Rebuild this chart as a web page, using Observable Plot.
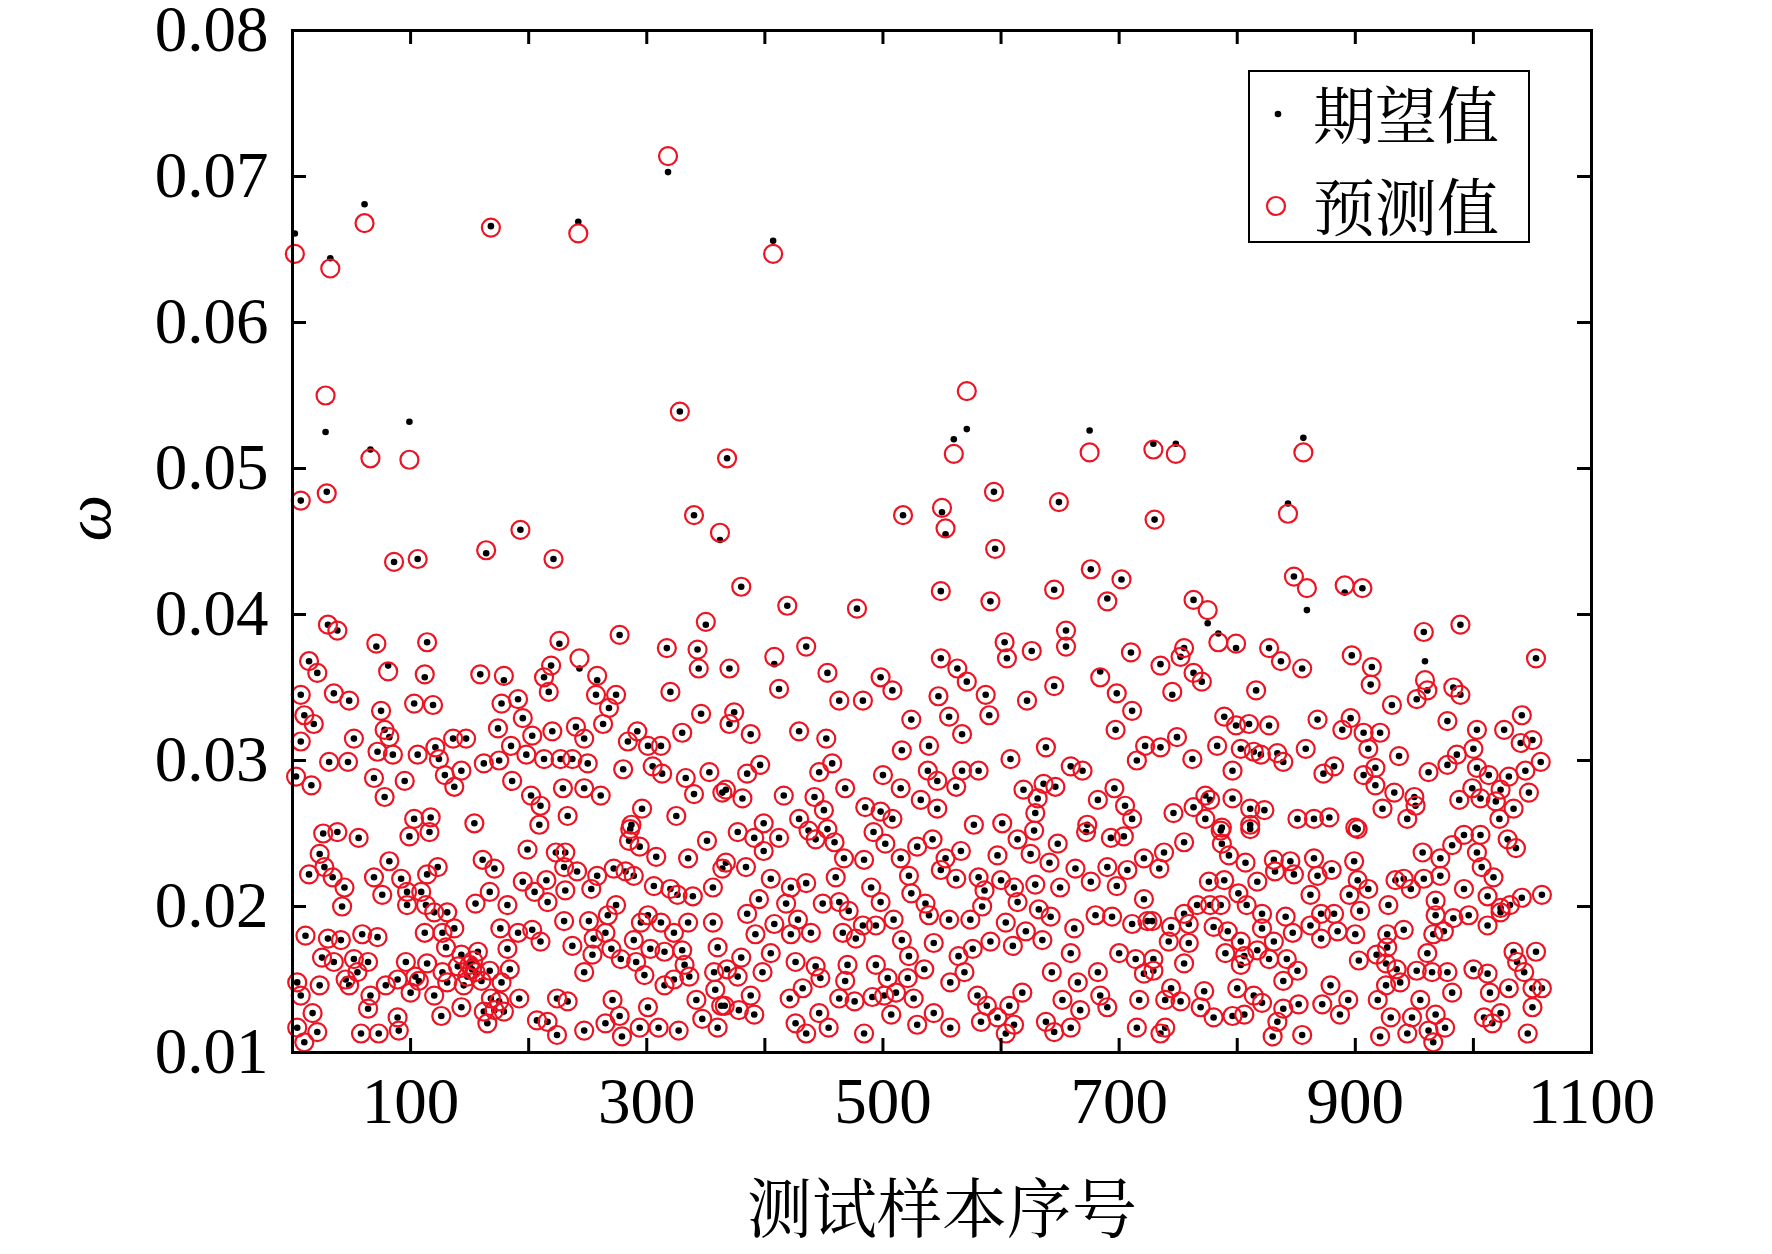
<!DOCTYPE html>
<html>
<head>
<meta charset="utf-8">
<script src="https://cdn.jsdelivr.net/npm/d3@7"></script>
<script src="https://cdn.jsdelivr.net/npm/@observablehq/plot@0.6"></script>
<style>
  html, body { margin: 0; padding: 0; background: #fff; }
  #wrap { position: relative; width: 1772px; height: 1254px; background: #fff; }
  #legend { position: absolute; left: 1248px; top: 70px; width: 282px; height: 173px;
            border: 2px solid #000; background: #fff; box-sizing: border-box; }
  #legend .lab { position: absolute; left: 63px; font-size: 62px; line-height: 62px;
            font-family: "Noto Serif CJK SC", "Noto Sans CJK SC", serif; color: #000; }
</style>
</head>
<body>
<div id="wrap">
  <div id="chart"></div>
  <div id="legend">
    <svg width="282" height="173" style="position:absolute;left:0;top:0">
      <circle cx="28" cy="42" r="3.3" fill="#000"></circle>
      <circle cx="26" cy="134" r="9" fill="none" stroke="#ec1422" stroke-width="2.2"></circle>
    </svg>
    <div class="lab" style="top:10px">期望值</div>
    <div class="lab" style="top:102px">预测值</div>
  </div>
</div>
<script>
// test sample index
const sampleIdx = [
// lower-left
26,38,56,99,116,286,351,285,294,23,27,14,34,44,42,82,69,92,114,123,
76,97,109,97,113,131,161,171,167,155,182,199,223,231,230,241,258,272,282,289,
308,335,364,195,215,205,216,231,253,306,320,326,339,356,274,267,301,295,312,323,
335,356,230,251,11,30,41,59,72,112,127,137,176,191,203,210,182,237,255,265,
270,289,303,315,330,360,25,35,52,64,55,96,114,127,143,157,152,167,184,177,
247,254,278,291,298,332,323,336,357,4,7,23,45,48,66,79,89,100,107,120,
131,145,168,175,192,224,233,271,301,315,342,358,363,17,64,89,126,143,162,171,
179,207,216,247,265,277,294,310,327,347,360,4,21,10,58,73,90,165,224,279,
// upper-left
30,38,71,114,226,277,350,317,343,344,14,21,81,112,159,179,219,213,217,243,
258,320,7,35,48,75,103,119,177,191,257,274,268,346,10,18,7,52,78,82,
72,85,121,136,147,124,106,174,185,195,203,220,240,247,263,292,284,301,312,330,
31,47,162,175,198,213,227,237,250,280,305,313,333,353,364,3,16,69,78,95,
129,143,137,186,202,210,229,247,261,340,117,103,154,209,233,296,287,325,
// lower-middle
377,412,399,391,437,453,443,459,492,502,529,542,566,553,549,597,614,625,628,648,
641,672,693,704,721,707,690,698,721,663,676,650,367,384,405,422,435,395,418,449,
467,484,460,463,490,498,515,522,524,536,562,581,586,600,611,629,614,632,584,385,
408,428,422,392,439,471,483,466,477,494,509,539,556,574,516,543,576,591,610,621,
635,642,604,662,680,694,711,724,659,643,665,682,700,714,721,380,368,377,398,405,
426,443,447,470,468,494,504,522,535,521,564,569,557,366,388,391,378,421,432,426,
435,454,446,463,476,491,501,484,507,511,526,529,543,557,580,588,607,583,597,604,
611,618,638,645,659,652,667,684,690,717,715,
// upper-middle
419,478,591,690,435,408,370,412,453,498,508,463,483,549,563,571,547,587,603,605,
626,655,655,710,684,645,698,622,711,374,370,388,429,452,524,556,590,567,516,539,
697,638,608,722,715,396,385,446,457,500,367,381,416,442,468,450,429,399,515,538,
546,567,581,562,532,546,485,498,508,659,669,619,636,646,631,629,577,601,696,682,
705,711,673,
// lower-right
755,786,787,793,811,807,738,734,776,789,801,817,831,845,832,848,865,868,862,880,
899,902,895,911,902,934,941,947,958,928,957,972,972,982,992,1006,1003,1007,992,1017,
1029,1036,1012,1041,1058,1023,1031,755,766,777,786,728,744,759,742,759,780,792,803,808,
821,821,831,841,847,817,862,871,871,882,885,900,904,927,941,927,903,918,961,968,
968,966,975,983,996,1012,1023,1034,1037,1053,729,729,755,790,803,806,827,842,839,851,
926,935,926,938,952,965,978,1000,1012,1043,1030,1050,1058,1050,1014,982,955,744,739,752,
769,772,780,796,806,800,814,821,839,852,834,830,855,872,879,887,894,919,930,948,
921,944,962,966,968,976,1009,1023,1016,1046,735,739,
// upper-right
763,775,784,799,755,752,735,770,763,745,816,827,837,855,897,914,913,958,989,959,
952,961,983,989,931,1053,1041,789,799,810,827,868,896,889,907,921,978,1003,1026,749,
735,762,783,796,803,814,820,834,839,858,873,882,911,907,917,917,937,962,978,986,
1000,1003,1013,1030,1040,1050,1057,1044,1047,999,1023,988,1006,1019,1034,1022,933,950,951,944,
923,900,773,777,763,746,796,811,823,773,787,811,851,865,878,
// high values
2,32,61,28,29,7,66,99,86,106,164,168,193,221,242,318,328,340,362,368,
380,407,517,550,553,549,560,571,594,595,649,645,675,676,702,729,748,730,843,856,
848,859,891,906,
// dense cluster near 150
120,104,130,153,140,148,160,150,155
];

// expected value (black dots)
const expected = [
// lower-left
0.0250,0.0251,0.0247,0.0248,0.0251,0.0253,0.0245,0.0245,0.0241,0.0236,0.0227,0.0222,0.0220,0.0213,0.0200,0.0231,0.0220,0.0219,0.0222,0.0227,
0.0208,0.0210,0.0210,0.0201,0.0201,0.0196,0.0232,0.0226,0.0210,0.0202,0.0201,0.0239,0.0237,0.0237,0.0227,0.0224,0.0221,0.0226,0.0224,0.0221,
0.0234,0.0233,0.0226,0.0217,0.0218,0.0210,0.0203,0.0211,0.0212,0.0214,0.0212,0.0208,0.0207,0.0213,0.0201,0.0194,0.0194,0.0189,0.0189,0.0182,
0.0189,0.0189,0.0190,0.0190,0.0180,0.0178,0.0177,0.0181,0.0179,0.0182,0.0182,0.0185,0.0185,0.0182,0.0184,0.0176,0.0171,0.0173,0.0178,0.0182,
0.0171,0.0177,0.0171,0.0169,0.0170,0.0172,0.0165,0.0162,0.0164,0.0162,0.0155,0.0162,0.0161,0.0155,0.0167,0.0169,0.0157,0.0156,0.0157,0.0148,
0.0155,0.0167,0.0164,0.0162,0.0153,0.0160,0.0150,0.0152,0.0155,0.0148,0.0139,0.0146,0.0150,0.0146,0.0139,0.0146,0.0150,0.0141,0.0149,0.0139,
0.0148,0.0146,0.0137,0.0135,0.0137,0.0137,0.0135,0.0136,0.0131,0.0146,0.0136,0.0143,0.0132,0.0127,0.0130,0.0124,0.0125,0.0131,0.0128,0.0129,
0.0128,0.0122,0.0121,0.0115,0.0120,0.0125,0.0117,0.0117,0.0115,0.0123,0.0117,0.0117,0.0114,0.0107,0.0113,0.0113,0.0115,0.0120,0.0112,0.0111,
// upper-left
0.0393,0.0389,0.0378,0.0381,0.0380,0.0386,0.0393,0.0377,0.0376,0.0363,0.0368,0.0360,0.0365,0.0357,0.0359,0.0355,0.0365,0.0357,0.0347,0.0363,
0.0355,0.0347,0.0345,0.0346,0.0341,0.0334,0.0339,0.0338,0.0339,0.0342,0.0345,0.0345,0.0336,0.0332,0.0331,0.0325,0.0313,0.0315,0.0321,0.0316,
0.0306,0.0304,0.0309,0.0315,0.0315,0.0301,0.0304,0.0322,0.0310,0.0329,0.0317,0.0320,0.0323,0.0315,0.0325,0.0320,0.0313,0.0310,0.0310,0.0319,
0.0299,0.0299,0.0298,0.0300,0.0304,0.0301,0.0301,0.0301,0.0298,0.0294,0.0296,0.0291,0.0288,0.0292,0.0278,0.0289,0.0283,0.0288,0.0275,0.0286,
0.0290,0.0293,0.0282,0.0286,0.0276,0.0269,0.0281,0.0281,0.0276,0.0277,0.0261,0.0260,0.0257,0.0256,0.0262,0.0267,0.0256,0.0262,
// lower-middle
0.0251,0.0247,0.0238,0.0247,0.0252,0.0253,0.0246,0.0244,0.0251,0.0243,0.0241,0.0246,0.0238,0.0233,0.0225,0.0235,0.0246,0.0236,0.0252,0.0243,
0.0230,0.0251,0.0247,0.0248,0.0233,0.0225,0.0227,0.0214,0.0205,0.0226,0.0217,0.0213,0.0230,0.0227,0.0219,0.0213,0.0216,0.0205,0.0202,0.0202,
0.0233,0.0232,0.0220,0.0203,0.0213,0.0203,0.0233,0.0221,0.0209,0.0202,0.0219,0.0220,0.0211,0.0218,0.0213,0.0215,0.0203,0.0198,0.0200,0.0195,
0.0188,0.0191,0.0181,0.0181,0.0182,0.0197,0.0187,0.0182,0.0178,0.0187,0.0191,0.0194,0.0191,0.0191,0.0177,0.0175,0.0171,0.0176,0.0173,0.0183,
0.0177,0.0193,0.0189,0.0185,0.0194,0.0193,0.0188,0.0190,0.0168,0.0155,0.0148,0.0155,0.0168,0.0164,0.0154,0.0165,0.0157,0.0152,0.0155,0.0168,
0.0162,0.0159,0.0151,0.0160,0.0149,0.0160,0.0151,0.0166,0.0157,0.0151,0.0166,0.0155,0.0148,0.0132,0.0139,0.0126,0.0129,0.0137,0.0144,0.0120,
0.0113,0.0117,0.0127,0.0137,0.0135,0.0138,0.0139,0.0113,0.0126,0.0141,0.0137,0.0119,0.0127,0.0117,0.0139,0.0132,0.0132,0.0121,0.0124,0.0113,
0.0119,0.0141,0.0121,0.0114,0.0117,0.0136,0.0129,0.0139,0.0131,0.0136,0.0117,
// upper-middle
0.0406,0.0404,0.0409,0.0411,0.0378,0.0366,0.0363,0.0349,0.0360,0.0357,0.0348,0.0341,0.0341,0.0370,0.0363,0.0354,0.0344,0.0345,0.0381,0.0370,
0.0375,0.0389,0.0378,0.0374,0.0361,0.0351,0.0346,0.0341,0.0334,0.0333,0.0325,0.0318,0.0320,0.0315,0.0328,0.0330,0.0331,0.0318,0.0307,0.0310,
0.0321,0.0309,0.0301,0.0310,0.0300,0.0297,0.0291,0.0292,0.0298,0.0290,0.0280,0.0274,0.0276,0.0275,0.0281,0.0266,0.0260,0.0257,0.0281,0.0293,
0.0286,0.0293,0.0293,0.0282,0.0273,0.0267,0.0268,0.0265,0.0260,0.0296,0.0293,0.0280,0.0284,0.0282,0.0274,0.0264,0.0256,0.0257,0.0281,0.0273,
0.0269,0.0260,0.0256,
// lower-right
0.0244,0.0252,0.0243,0.0235,0.0253,0.0230,0.0237,0.0226,0.0217,0.0218,0.0209,0.0217,0.0232,0.0231,0.0224,0.0222,0.0233,0.0221,0.0208,0.0225,
0.0231,0.0218,0.0208,0.0212,0.0253,0.0218,0.0219,0.0212,0.0219,0.0201,0.0237,0.0233,0.0221,0.0242,0.0249,0.0249,0.0237,0.0227,0.0212,0.0220,
0.0246,0.0240,0.0207,0.0206,0.0208,0.0199,0.0201,0.0195,0.0201,0.0201,0.0201,0.0190,0.0186,0.0188,0.0176,0.0175,0.0186,0.0183,0.0176,0.0201,
0.0195,0.0185,0.0176,0.0193,0.0182,0.0170,0.0187,0.0195,0.0178,0.0195,0.0183,0.0181,0.0197,0.0181,0.0184,0.0172,0.0163,0.0167,0.0168,0.0204,
0.0194,0.0181,0.0183,0.0192,0.0194,0.0187,0.0196,0.0169,0.0162,0.0169,0.0164,0.0156,0.0161,0.0168,0.0160,0.0166,0.0164,0.0164,0.0149,0.0156,
0.0161,0.0157,0.0146,0.0148,0.0156,0.0155,0.0155,0.0157,0.0154,0.0155,0.0144,0.0144,0.0144,0.0131,0.0141,0.0141,0.0136,0.0144,0.0136,0.0135,
0.0131,0.0142,0.0124,0.0125,0.0126,0.0144,0.0139,0.0134,0.0130,0.0133,0.0121,0.0111,0.0112,0.0133,0.0146,0.0126,0.0136,0.0136,0.0124,0.0124,
0.0111,0.0113,0.0115,0.0107,0.0126,0.0117,0.0124,0.0127,0.0120,0.0113,0.0113,0.0117,
// upper-right
0.0410,0.0394,0.0387,0.0377,0.0377,0.0371,0.0366,0.0354,0.0360,0.0345,0.0348,0.0377,0.0368,0.0363,0.0372,0.0364,0.0352,0.0388,0.0393,0.0368,
0.0342,0.0348,0.0350,0.0345,0.0338,0.0370,0.0331,0.0330,0.0324,0.0325,0.0324,0.0328,0.0329,0.0321,0.0319,0.0319,0.0327,0.0321,0.0321,0.0316,
0.0309,0.0301,0.0310,0.0293,0.0308,0.0306,0.0304,0.0305,0.0299,0.0308,0.0291,0.0296,0.0308,0.0290,0.0295,0.0283,0.0303,0.0292,0.0297,0.0304,
0.0308,0.0295,0.0290,0.0289,0.0312,0.0314,0.0299,0.0293,0.0278,0.0281,0.0280,0.0273,0.0274,0.0272,0.0267,0.0260,0.0278,0.0275,0.0269,0.0260,
0.0267,0.0254,0.0276,0.0273,0.0268,0.0264,0.0274,0.0267,0.0266,0.0260,0.0254,0.0256,0.0260,0.0260,0.0261,
// high values
0.0661,0.0644,0.0681,0.0525,0.0484,0.0478,0.0513,0.0532,0.0436,0.0438,0.0442,0.0666,0.0458,0.0438,0.0669,0.0703,0.0539,0.0468,0.0451,0.0507,
0.0419,0.0656,0.0468,0.0470,0.0455,0.0416,0.0520,0.0527,0.0484,0.0445,0.0477,0.0417,0.0526,0.0431,0.0424,0.0517,0.0517,0.0465,0.0476,0.0521,
0.0426,0.0403,0.0415,0.0418,
// dense cluster near 150
0.0196,0.0152,0.0172,0.0163,0.0159,0.0152,0.0149,0.0160,0.0155
];

// predicted value (red circles)
const predicted = [
// lower-left
0.0250,0.0251,0.0247,0.0248,0.0251,0.0253,0.0245,0.0245,0.0241,0.0236,0.0227,0.0222,0.0220,0.0213,0.0200,0.0231,0.0220,0.0219,0.0222,0.0227,
0.0208,0.0210,0.0210,0.0201,0.0201,0.0196,0.0232,0.0226,0.0210,0.0202,0.0201,0.0239,0.0237,0.0237,0.0227,0.0224,0.0221,0.0226,0.0224,0.0221,
0.0234,0.0233,0.0226,0.0217,0.0218,0.0210,0.0203,0.0211,0.0212,0.0214,0.0212,0.0208,0.0207,0.0213,0.0201,0.0194,0.0194,0.0189,0.0189,0.0182,
0.0189,0.0189,0.0190,0.0190,0.0180,0.0178,0.0177,0.0181,0.0179,0.0182,0.0182,0.0185,0.0185,0.0182,0.0184,0.0176,0.0171,0.0173,0.0178,0.0182,
0.0171,0.0177,0.0171,0.0169,0.0170,0.0172,0.0165,0.0162,0.0164,0.0162,0.0155,0.0162,0.0161,0.0155,0.0167,0.0169,0.0157,0.0156,0.0157,0.0148,
0.0155,0.0167,0.0164,0.0162,0.0153,0.0160,0.0150,0.0152,0.0155,0.0148,0.0139,0.0146,0.0150,0.0146,0.0139,0.0146,0.0150,0.0141,0.0149,0.0139,
0.0148,0.0146,0.0137,0.0135,0.0137,0.0137,0.0135,0.0136,0.0131,0.0146,0.0136,0.0143,0.0132,0.0127,0.0130,0.0124,0.0125,0.0131,0.0128,0.0129,
0.0128,0.0122,0.0121,0.0115,0.0120,0.0125,0.0117,0.0117,0.0115,0.0123,0.0117,0.0117,0.0114,0.0107,0.0113,0.0113,0.0115,0.0120,0.0112,0.0111,
// upper-left
0.0393,0.0389,0.0380,0.0381,0.0382,0.0386,0.0395,0.0377,0.0376,0.0363,0.0368,0.0360,0.0361,0.0359,0.0359,0.0358,0.0365,0.0357,0.0347,0.0370,
0.0358,0.0347,0.0345,0.0346,0.0341,0.0334,0.0339,0.0338,0.0339,0.0342,0.0345,0.0345,0.0336,0.0332,0.0331,0.0325,0.0313,0.0315,0.0321,0.0316,
0.0306,0.0304,0.0309,0.0315,0.0315,0.0301,0.0304,0.0322,0.0310,0.0329,0.0317,0.0320,0.0323,0.0315,0.0325,0.0320,0.0313,0.0310,0.0310,0.0319,
0.0299,0.0299,0.0298,0.0300,0.0304,0.0301,0.0301,0.0301,0.0298,0.0294,0.0296,0.0291,0.0288,0.0292,0.0278,0.0289,0.0283,0.0288,0.0275,0.0286,
0.0290,0.0293,0.0282,0.0286,0.0276,0.0269,0.0281,0.0281,0.0276,0.0277,0.0261,0.0260,0.0257,0.0256,0.0262,0.0267,0.0256,0.0262,
// lower-middle
0.0251,0.0247,0.0238,0.0247,0.0252,0.0253,0.0246,0.0244,0.0251,0.0243,0.0241,0.0246,0.0238,0.0233,0.0225,0.0235,0.0246,0.0236,0.0252,0.0243,
0.0230,0.0251,0.0247,0.0248,0.0233,0.0225,0.0227,0.0214,0.0205,0.0226,0.0217,0.0213,0.0230,0.0227,0.0219,0.0213,0.0216,0.0205,0.0202,0.0202,
0.0233,0.0232,0.0220,0.0203,0.0213,0.0203,0.0233,0.0221,0.0209,0.0202,0.0219,0.0220,0.0211,0.0218,0.0213,0.0215,0.0203,0.0198,0.0200,0.0195,
0.0188,0.0191,0.0181,0.0181,0.0182,0.0197,0.0187,0.0182,0.0178,0.0187,0.0191,0.0194,0.0191,0.0191,0.0177,0.0175,0.0171,0.0176,0.0173,0.0183,
0.0177,0.0193,0.0189,0.0185,0.0194,0.0193,0.0188,0.0190,0.0168,0.0155,0.0148,0.0155,0.0168,0.0164,0.0154,0.0165,0.0157,0.0152,0.0155,0.0168,
0.0162,0.0159,0.0151,0.0160,0.0149,0.0160,0.0151,0.0166,0.0157,0.0151,0.0166,0.0155,0.0148,0.0132,0.0139,0.0126,0.0129,0.0137,0.0144,0.0120,
0.0113,0.0117,0.0127,0.0137,0.0135,0.0138,0.0139,0.0113,0.0126,0.0141,0.0137,0.0119,0.0127,0.0117,0.0139,0.0132,0.0132,0.0121,0.0124,0.0113,
0.0119,0.0141,0.0121,0.0114,0.0117,0.0136,0.0129,0.0139,0.0131,0.0136,0.0117,
// upper-middle
0.0406,0.0404,0.0409,0.0409,0.0378,0.0371,0.0363,0.0349,0.0360,0.0357,0.0348,0.0341,0.0341,0.0370,0.0363,0.0354,0.0344,0.0345,0.0381,0.0370,
0.0375,0.0389,0.0378,0.0374,0.0357,0.0351,0.0346,0.0341,0.0334,0.0333,0.0325,0.0318,0.0320,0.0315,0.0328,0.0330,0.0331,0.0318,0.0307,0.0310,
0.0321,0.0309,0.0301,0.0310,0.0300,0.0297,0.0291,0.0292,0.0298,0.0290,0.0280,0.0274,0.0276,0.0275,0.0281,0.0266,0.0260,0.0257,0.0281,0.0293,
0.0286,0.0293,0.0293,0.0282,0.0273,0.0267,0.0268,0.0265,0.0260,0.0296,0.0293,0.0280,0.0284,0.0282,0.0274,0.0264,0.0256,0.0257,0.0281,0.0273,
0.0269,0.0260,0.0256,
// lower-right
0.0244,0.0252,0.0243,0.0235,0.0253,0.0230,0.0237,0.0226,0.0217,0.0218,0.0209,0.0217,0.0232,0.0231,0.0224,0.0222,0.0233,0.0221,0.0208,0.0225,
0.0231,0.0218,0.0208,0.0212,0.0253,0.0218,0.0219,0.0212,0.0219,0.0201,0.0237,0.0233,0.0221,0.0242,0.0249,0.0249,0.0237,0.0227,0.0212,0.0220,
0.0246,0.0240,0.0207,0.0206,0.0208,0.0199,0.0201,0.0195,0.0201,0.0201,0.0201,0.0190,0.0186,0.0188,0.0176,0.0175,0.0186,0.0183,0.0176,0.0201,
0.0195,0.0185,0.0176,0.0193,0.0182,0.0170,0.0187,0.0195,0.0178,0.0195,0.0183,0.0181,0.0197,0.0181,0.0184,0.0172,0.0163,0.0167,0.0168,0.0204,
0.0194,0.0181,0.0183,0.0192,0.0194,0.0187,0.0196,0.0169,0.0162,0.0169,0.0164,0.0156,0.0161,0.0168,0.0160,0.0166,0.0164,0.0164,0.0149,0.0156,
0.0161,0.0157,0.0146,0.0148,0.0156,0.0155,0.0155,0.0157,0.0154,0.0155,0.0144,0.0144,0.0144,0.0131,0.0141,0.0141,0.0136,0.0144,0.0136,0.0135,
0.0131,0.0142,0.0124,0.0125,0.0126,0.0144,0.0139,0.0134,0.0130,0.0133,0.0121,0.0111,0.0112,0.0133,0.0146,0.0126,0.0136,0.0136,0.0124,0.0124,
0.0111,0.0113,0.0115,0.0107,0.0126,0.0117,0.0124,0.0127,0.0120,0.0113,0.0113,0.0117,
// upper-right
0.0410,0.0403,0.0381,0.0380,0.0377,0.0371,0.0365,0.0354,0.0360,0.0347,0.0348,0.0377,0.0368,0.0363,0.0372,0.0364,0.0352,0.0388,0.0393,0.0355,
0.0342,0.0348,0.0350,0.0345,0.0338,0.0370,0.0331,0.0330,0.0324,0.0325,0.0324,0.0328,0.0329,0.0321,0.0319,0.0319,0.0327,0.0321,0.0321,0.0316,
0.0309,0.0301,0.0310,0.0293,0.0308,0.0306,0.0304,0.0305,0.0299,0.0308,0.0291,0.0296,0.0308,0.0290,0.0295,0.0283,0.0303,0.0292,0.0297,0.0304,
0.0308,0.0295,0.0290,0.0289,0.0312,0.0314,0.0299,0.0293,0.0278,0.0281,0.0280,0.0273,0.0274,0.0272,0.0267,0.0260,0.0278,0.0275,0.0269,0.0260,
0.0267,0.0254,0.0276,0.0273,0.0268,0.0264,0.0274,0.0267,0.0266,0.0260,0.0254,0.0256,0.0260,0.0260,0.0261,
// high values
0.0647,0.0637,0.0668,0.0550,0.0483,0.0478,0.0507,0.0506,0.0436,0.0438,0.0444,0.0665,0.0458,0.0438,0.0661,0.0714,0.0539,0.0468,0.0456,0.0507,
0.0419,0.0647,0.0468,0.0473,0.0459,0.0416,0.0510,0.0553,0.0484,0.0445,0.0477,0.0417,0.0511,0.0431,0.0424,0.0513,0.0510,0.0465,0.0469,0.0511,
0.0426,0.0418,0.0420,0.0418,
// dense cluster near 150
0.0196,0.0152,0.0172,0.0163,0.0159,0.0152,0.0149,0.0160,0.0155
];

// axis ticks
const xTickLabels = [100, 300, 500, 700, 900, 1100];
const xTicks = [100, 200, 300, 400, 500, 600, 700, 800, 900, 1000];
const yTicks = [0.02, 0.03, 0.04, 0.05, 0.06, 0.07];
const yTickLabels = [0.01, 0.02, 0.03, 0.04, 0.05, 0.06, 0.07, 0.08];

if (sampleIdx.length !== expected.length || expected.length !== predicted.length) {
  throw new Error("length mismatch " + sampleIdx.length + " " + expected.length + " " + predicted.length);
}

const rows = sampleIdx.map((x, i) => ({x, e: expected[i], p: predicted[i]}));

const W = 1772, H = 1254;
const mL = 292, mR = 181, mT = 30, mB = 202;
const innerW = W - mL - mR, innerH = H - mT - mB;
const TL = 14;
const serif = "'Liberation Serif', 'Times New Roman', 'DejaVu Serif', serif";
const cjk = "'Noto Serif CJK SC', 'Noto Sans CJK SC', sans-serif";
const red = "#ec1422";

const chart = Plot.plot({
  width: W, height: H,
  marginLeft: mL, marginRight: mR, marginTop: mT, marginBottom: mB,
  style: {fontFamily: serif, fontSize: "65px", background: "#fff", color: "#000", overflow: "visible"},
  x: {domain: [0, 1100]},
  y: {domain: [0.01, 0.08]},
  marks: [
    Plot.dot(rows, {x: "x", y: "e", r: 3.3, fill: "#000", stroke: "none"}),
    Plot.dot(rows, {x: "x", y: "p", r: 9, fill: "none", stroke: red, strokeWidth: 2.2}),
    // inward ticks
    Plot.ruleX(xTicks, {x: d => d, insetTop: innerH - TL, stroke: "#000", strokeWidth: 3}),
    Plot.ruleX(xTicks, {x: d => d, insetBottom: innerH - TL, stroke: "#000", strokeWidth: 3}),
    Plot.ruleY(yTicks, {y: d => d, insetRight: innerW - TL, stroke: "#000", strokeWidth: 3}),
    Plot.ruleY(yTicks, {y: d => d, insetLeft: innerW - TL, stroke: "#000", strokeWidth: 3}),
    Plot.frame({stroke: "#000", strokeWidth: 3}),
    Plot.axisX(xTickLabels, {tickSize: 0, tickPadding: 24, fontSize: 65, label: null, fontFamily: serif, tickFormat: d => String(d)}),
    Plot.axisY(yTickLabels, {tickSize: 0, tickPadding: 24, fontSize: 65, label: null, fontFamily: serif, tickFormat: d => d.toFixed(2)}),
    Plot.text(["测试样本序号"], {text: d => d, frameAnchor: "bottom", dy: 159, fontSize: 65, fontFamily: cjk, lineAnchor: "middle", fill: "#000"}),
    Plot.text(["ω"], {text: d => d, frameAnchor: "left", dx: -204, rotate: -90, fontSize: 66, fontStyle: "italic", fontFamily: serif, lineAnchor: "middle", fill: "#000"})
  ]
});
document.getElementById("chart").appendChild(chart);
</script>
</body>
</html>
